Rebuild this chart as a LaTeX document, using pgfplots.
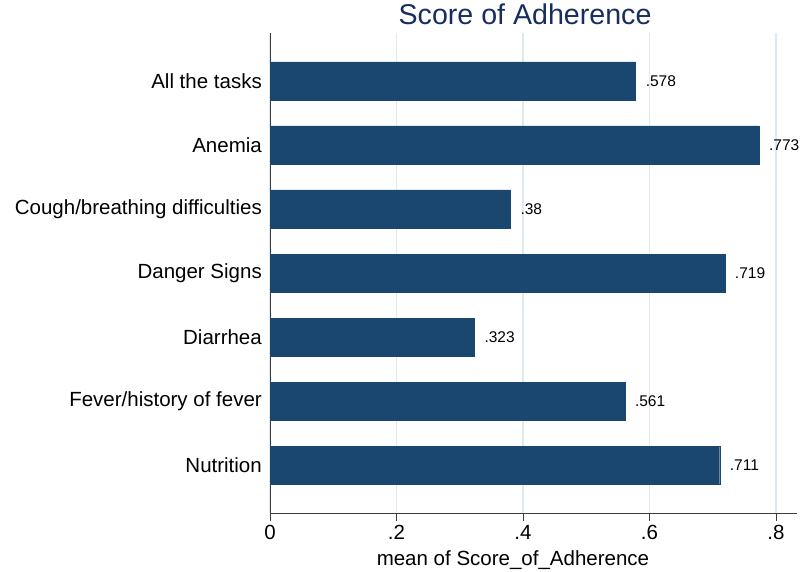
\documentclass[border=0pt]{standalone}
\usepackage{fontspec}
\setmainfont{Liberation Sans}
\usepackage{pgfplots}
\pgfplotsset{compat=1.18}
\definecolor{barcol}{RGB}{26,71,111}
\definecolor{gridcol}{RGB}{222,234,239}
\definecolor{titlecol}{RGB}{24,45,95}
\definecolor{axcol}{RGB}{60,60,60}
\begin{document}
\begin{tikzpicture}[x=1pt,y=1pt]
\path[use as bounding box] (0,0) rectangle (800,572);
\begin{axis}[
 at={(270pt,59pt)}, anchor=south west,
 scale only axis, width=527pt, height=480pt,
 xbar, bar width=38pt,
 xmin=0, xmax=0.8332, ymin=-0.75, ymax=6.75, y dir=reverse,
 axis x line=bottom, axis y line=left,
 axis line style={-, draw=axcol, line width=1pt},
 xtick={0,0.2,0.4,0.6,0.8}, xticklabels={0,.2,.4,.6,.8},
 ytick={0,1,2,3,4,5,6},
 yticklabels={All the tasks, Anemia, Cough/breathing difficulties, Danger Signs, Diarrhea, Fever/history of fever, Nutrition},
 xmajorgrids, grid style={draw=gridcol, line width=1.2pt},
 tick align=outside, major tick length=8pt,
 x tick style={draw=axcol, line width=1pt},
 y tick style={draw=none},
 ticklabel style={font=\fontsize{20.5}{24}\selectfont, inner sep=0pt},
 yticklabel style={anchor=east},
 xticklabel style={anchor=north, yshift=-4pt},
 title={Score of Adherence},
 title style={at={(axis description cs:0.484,1)}, anchor=base, yshift=2pt, font=\fontsize{28.6}{32}\selectfont, text=titlecol, inner sep=0pt},
 xlabel={mean of Score\_of\_Adherence},
 xlabel style={at={(axis description cs:0.461,0)}, anchor=base, yshift=-52pt, font=\fontsize{20.5}{24}\selectfont, inner sep=0pt},
 point meta=explicit symbolic,
 nodes near coords,
 nodes near coords style={font=\fontsize{15.5}{18}\selectfont, anchor=west, inner sep=0pt, xshift=10pt, text=black},
]
\addplot[fill=barcol, draw=barcol] coordinates {
 (0.578,0) [.578]
 (0.773,1) [.773]
 (0.38,2) [.38]
 (0.719,3) [.719]
 (0.323,4) [.323]
 (0.561,5) [.561]
 (0.711,6) [.711]
};
\end{axis}
\end{tikzpicture}
\end{document}
